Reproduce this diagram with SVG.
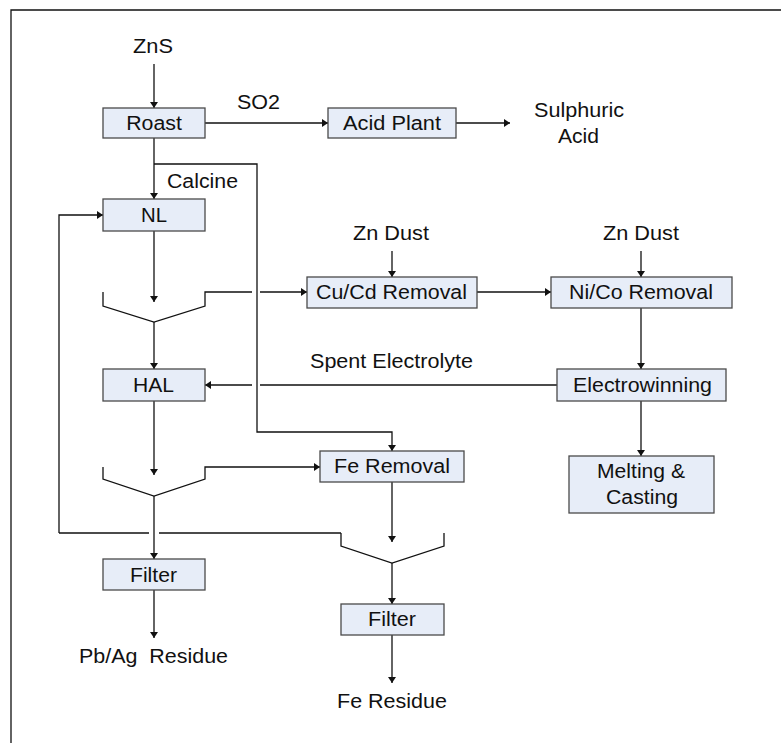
<svg xmlns="http://www.w3.org/2000/svg" width="781" height="743" viewBox="0 0 781 743">
<style>
.box{fill:#E7EDF8;stroke:#4a4a4a;stroke-width:1.3}
.ln{fill:none;stroke:#111;stroke-width:1.3}
.arr{fill:none;stroke:#111;stroke-width:1.3;marker-end:url(#ah)}
text{font-family:"Liberation Sans",Arial,sans-serif;font-size:20px;fill:#111}
.c{text-anchor:middle}
</style>
<defs>
<marker id="ah" markerUnits="userSpaceOnUse" markerWidth="10" markerHeight="10" refX="8" refY="5" orient="auto">
<path d="M2,1 L8,5 L2,9 z" fill="#111"/>
</marker>
</defs>
<rect width="781" height="743" fill="#fff"/>
<path class="ln" d="M11,743 V10 H781" stroke-width="1.6"/>

<g id="connectors">
<path class="arr" d="M154,64 V108"/>
<path class="arr" d="M205,123 H328"/>
<path class="arr" d="M456,123 H510"/>
<path class="arr" d="M154,138 V199"/>
<path class="arr" d="M154,164 H257 V432 H392 V451"/>
<path class="arr" d="M59,533 V215 H103"/>
<path class="ln" d="M59,533 H149 M159,533 H341"/>
<path class="arr" d="M154,231 V302"/>
<path class="ln" d="M103,292 V306 L154,322 L205,306 V292 H252"/>
<path class="arr" d="M260,292 H307"/>
<path class="arr" d="M392,251 V277"/>
<path class="arr" d="M641,251 V277"/>
<path class="arr" d="M477,292 H551"/>
<path class="arr" d="M641,308 V369"/>
<path class="arr" d="M557,385 H260 M252,385 H205"/>
<path class="arr" d="M641,401 V456"/>
<path class="arr" d="M154,322 V369"/>
<path class="arr" d="M154,401 V475"/>
<path class="arr" d="M103,467 V479 L154,496 L205,479 V467 H320"/>
<path class="arr" d="M154,496 V559"/>
<path class="arr" d="M154,590 V638"/>
<path class="arr" d="M392,482 V542"/>
<path class="ln" d="M341,533 V546 L392,563 L444,546 V533"/>
<path class="arr" d="M392,563 V604"/>
<path class="arr" d="M392,635 V683"/>
</g>

<g id="labels">
<text class="c" x="153" y="53" textLength="40" lengthAdjust="spacingAndGlyphs">ZnS</text>
<text class="c" x="258.5" y="109" textLength="43" lengthAdjust="spacingAndGlyphs">SO2</text>
<text class="c" x="579" y="117" textLength="90" lengthAdjust="spacingAndGlyphs">Sulphuric</text>
<text class="c" x="578.5" y="143" textLength="41" lengthAdjust="spacingAndGlyphs">Acid</text>
<text x="167" y="188" textLength="71" lengthAdjust="spacingAndGlyphs">Calcine</text>
<text class="c" x="391" y="240" textLength="76" lengthAdjust="spacingAndGlyphs">Zn Dust</text>
<text class="c" x="641" y="240" textLength="76" lengthAdjust="spacingAndGlyphs">Zn Dust</text>
<text class="c" x="391.5" y="368" textLength="163" lengthAdjust="spacingAndGlyphs">Spent Electrolyte</text>
<text class="c" x="153.5" y="663" textLength="149" lengthAdjust="spacingAndGlyphs" xml:space="preserve">Pb/Ag  Residue</text>
<text class="c" x="392" y="707.5" textLength="110" lengthAdjust="spacingAndGlyphs">Fe Residue</text>
</g>

<g id="roast"><rect class="box" x="103" y="108" width="102" height="30"/><text class="c" x="154" y="129.5" textLength="55.7" lengthAdjust="spacingAndGlyphs">Roast</text></g>
<g id="acid-plant"><rect class="box" x="328" y="108" width="128" height="30"/><text class="c" x="392" y="129.5" textLength="98" lengthAdjust="spacingAndGlyphs">Acid Plant</text></g>
<g id="nl"><rect class="box" x="103" y="199" width="102" height="32"/><text class="c" x="154" y="222" textLength="26" lengthAdjust="spacingAndGlyphs">NL</text></g>
<g id="cucd"><rect class="box" x="307" y="277" width="170" height="31"/><text class="c" x="391.5" y="298.5" textLength="151" lengthAdjust="spacingAndGlyphs">Cu/Cd Removal</text></g>
<g id="nico"><rect class="box" x="551" y="277" width="181" height="31"/><text class="c" x="641" y="298.5" textLength="144" lengthAdjust="spacingAndGlyphs">Ni/Co Removal</text></g>
<g id="hal"><rect class="box" x="103" y="369" width="102" height="32"/><text class="c" x="153.5" y="392" textLength="41" lengthAdjust="spacingAndGlyphs">HAL</text></g>
<g id="electrowinning"><rect class="box" x="557" y="369" width="169" height="32"/><text class="c" x="642.5" y="392" textLength="139" lengthAdjust="spacingAndGlyphs">Electrowinning</text></g>
<g id="fe-removal"><rect class="box" x="320" y="451" width="144" height="31"/><text class="c" x="392" y="473" textLength="116" lengthAdjust="spacingAndGlyphs">Fe Removal</text></g>
<g id="melting"><rect class="box" x="569" y="456" width="145" height="57"/><text class="c" x="641" y="478" textLength="88" lengthAdjust="spacingAndGlyphs">Melting &amp;</text><text class="c" x="642" y="503.5" textLength="72" lengthAdjust="spacingAndGlyphs">Casting</text></g>
<g id="filter1"><rect class="box" x="103" y="559" width="102" height="31"/><text class="c" x="153.5" y="581.5" textLength="47" lengthAdjust="spacingAndGlyphs">Filter</text></g>
<g id="filter2"><rect class="box" x="341" y="604" width="103" height="31"/><text class="c" x="392" y="626" textLength="48" lengthAdjust="spacingAndGlyphs">Filter</text></g>
</svg>
